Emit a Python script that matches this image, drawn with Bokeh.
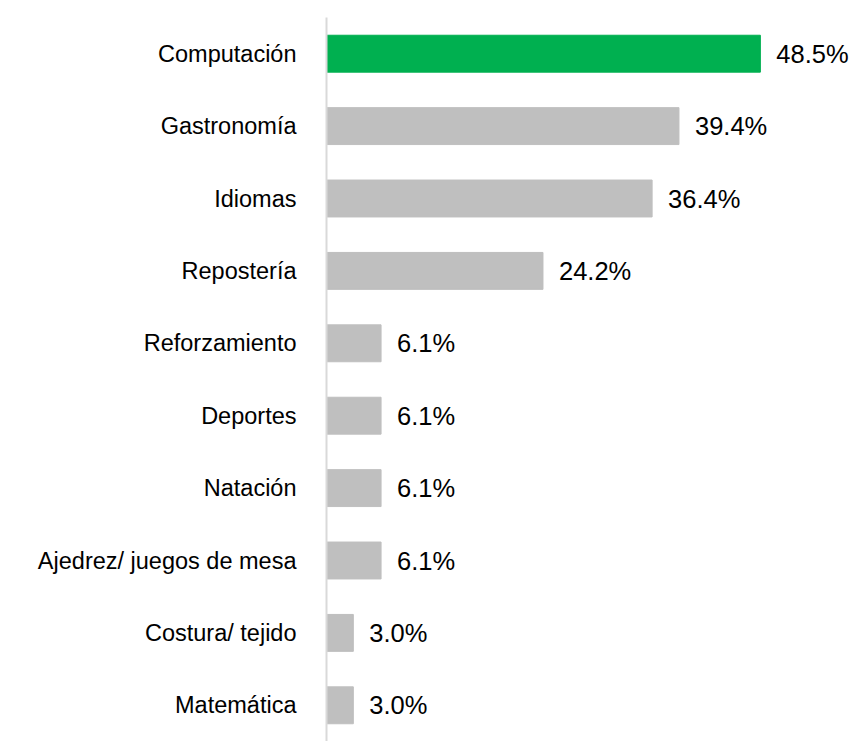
from bokeh.plotting import figure
from bokeh.models import ColumnDataSource, FactorRange, Range1d
from bokeh.core.properties import value
from bokeh.embed import file_html
from bokeh.resources import INLINE

categories = ["Computación", "Gastronomía", "Idiomas", "Repostería", "Reforzamiento",
              "Deportes", "Natación", "Ajedrez/ juegos de mesa", "Costura/ tejido", "Matemática"]
values = [48.5, 39.4, 36.4, 24.2, 6.1, 6.1, 6.1, 6.1, 3.0, 3.0]
labels = ["48.5%", "39.4%", "36.4%", "24.2%", "6.1%", "6.1%", "6.1%", "6.1%", "3.0%", "3.0%"]
colors = ["#00b050"] + ["#bfbfbf"] * 9

src = ColumnDataSource(dict(cat=categories, val=values, lab=labels, col=colors))

p = figure(width=852, height=741, output_backend="svg", toolbar_location=None,
           y_range=FactorRange(*reversed(categories)), x_range=Range1d(0, 58.8),
           x_axis_location=None, min_border_left=326, min_border_right=0,
           min_border_top=17, min_border_bottom=0)
p.outline_line_color = None
p.xgrid.visible = False
p.ygrid.visible = False

p.hbar(y="cat", right="val", left=0, height=0.51, color="col", source=src)
p.text(x="val", y="cat", text="lab", source=src, x_offset=16, text_baseline="middle",
       text_align="left", text_font=value("Liberation Sans"), text_font_size=value("25.5px"),
       text_color="#000000")

ax = p.yaxis[0]
ax.axis_line_color = "#d9d9d9"
ax.axis_line_width = 2
ax.major_tick_line_color = None
ax.minor_tick_line_color = None
ax.major_label_text_font = "Liberation Sans"
ax.major_label_text_font_size = "23.5px"
ax.major_label_text_color = "#000000"
ax.major_label_standoff = 24

open("out.html", "w").write(file_html(p, INLINE))
